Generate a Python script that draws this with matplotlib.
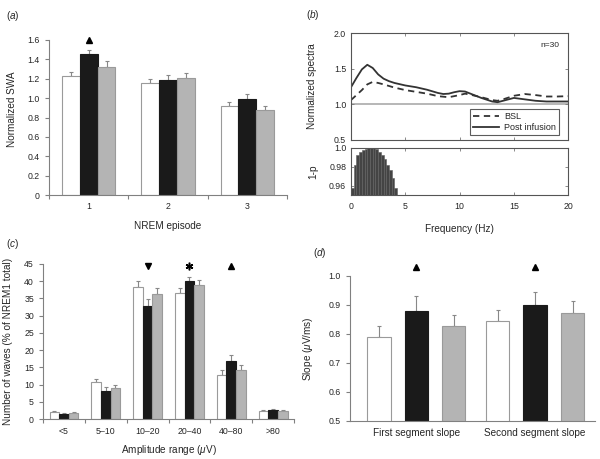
import matplotlib
matplotlib.use("Agg")
import matplotlib.pyplot as plt
import numpy as np

plt.rcParams['font.family'] = ['Liberation Sans', 'DejaVu Sans']
plt.rcParams['mathtext.fontset'] = 'custom'
plt.rcParams['mathtext.rm'] = 'Liberation Sans'
plt.rcParams['mathtext.it'] = 'Liberation Sans:italic'
plt.rcParams['font.size'] = 7

TXT = '#262626'
SP = '#808080'
COLS = ['white', '#1a1a1a', '#b4b4b4']
EDGES = ['#9a9a9a', '#1a1a1a', '#9a9a9a']
TICK_FS = 6.3
LAB_FS = 7.2

# ---- panel a data ----
episodes = ['1', '2', '3']
swa_means = [[1.23, 1.16, 0.92], [1.45, 1.19, 0.99], [1.32, 1.21, 0.88]]
swa_errs = [[0.04, 0.04, 0.04], [0.05, 0.05, 0.05], [0.06, 0.05, 0.04]]
swa_sig_x = [1]
swa_sig_y = [1.6]

# ---- panel b data ----
freq_bsl = [0, 0.5, 1.0, 1.5, 2.0, 2.5, 3, 4, 5, 6, 7, 8, 9, 10, 10.5, 11, 12, 13, 13.5, 14, 15, 16, 17, 18, 19, 20]
spec_bsl = [1.06, 1.13, 1.2, 1.28, 1.315, 1.30, 1.28, 1.235, 1.2, 1.175, 1.15, 1.115, 1.10, 1.13, 1.15, 1.135, 1.10, 1.06, 1.05, 1.07, 1.12, 1.145, 1.13, 1.11, 1.11, 1.115]
freq_post = [0, 0.5, 1.0, 1.5, 2.0, 2.5, 3, 3.5, 4, 5, 6, 7, 8, 8.5, 9, 9.5, 10, 10.5, 11, 12, 13, 13.5, 14, 15, 16, 17, 18, 19, 20]
spec_post = [1.24, 1.37, 1.49, 1.555, 1.51, 1.42, 1.36, 1.325, 1.30, 1.265, 1.24, 1.205, 1.16, 1.145, 1.15, 1.17, 1.185, 1.18, 1.15, 1.09, 1.04, 1.03, 1.05, 1.09, 1.07, 1.05, 1.04, 1.04, 1.04]
p_freq = [0.0, 0.25, 0.5, 0.75, 1.0, 1.25, 1.5, 1.75, 2.0, 2.25, 2.5, 2.75, 3.0, 3.25, 3.5, 3.75, 4.0]
p_vals = [0.958, 0.982, 0.992, 0.996, 0.998, 0.999, 1.0, 1.0, 1.0, 0.999, 0.996, 0.992, 0.988, 0.982, 0.976, 0.968, 0.958]

# ---- panel c data ----
amp_ranges = ['<5', '5\u201310', '10\u201320', '20\u201340', '40\u201380', '>80']
wave_means = [[1.9, 10.6, 38.2, 36.5, 12.7, 2.4],
              [1.5, 8.2, 32.8, 40.0, 16.7, 2.6],
              [1.8, 8.9, 36.3, 38.8, 14.2, 2.3]]
wave_errs = [[0.3, 1.1, 1.8, 1.4, 1.5, 0.3],
             [0.3, 1.1, 2.0, 1.2, 2.0, 0.4],
             [0.3, 0.9, 1.8, 1.5, 1.5, 0.3]]
wave_sig_x = [2, 3, 4]
wave_sig_y = [44.5, 44.5, 44.5]
wave_sig_m = ['v', (6, 2, 0), '^']

# ---- panel d data ----
segments = ['First segment slope', 'Second segment slope']
slope_means = [[0.790, 0.843], [0.880, 0.901], [0.828, 0.873]]
slope_errs = [[0.038, 0.039], [0.051, 0.044], [0.037, 0.040]]
slope_sig_y = [1.03, 1.03]

fig = plt.figure(figsize=(6.0, 4.59), dpi=100)

def style_open(ax):
    for s in ['top', 'right']:
        ax.spines[s].set_visible(False)
    for s in ['left', 'bottom']:
        ax.spines[s].set_color(SP)
        ax.spines[s].set_linewidth(0.8)
    ax.tick_params(colors=SP, labelcolor=TXT, labelsize=TICK_FS, length=3, width=0.8)

def bars(ax, xs, means, errs, width, offsets):
    for i in range(3):
        x = np.array(xs) + offsets[i]
        ax.bar(x, means[i], width=width, color=COLS[i], edgecolor=EDGES[i], linewidth=0.8, zorder=2)
        ax.errorbar(x, means[i], yerr=[np.zeros(len(means[i])), errs[i]], fmt='none',
                    ecolor='#888888', elinewidth=0.8, capsize=1.5, capthick=0.8, zorder=1)

# ---- panel a ----
axa = fig.add_axes([0.0817, 0.575, 0.3966, 0.338])
style_open(axa)
xa = np.arange(1, len(episodes) + 1)
bars(axa, xa, swa_means, swa_errs, 0.225, [-0.225, 0, 0.225])
axa.plot(swa_sig_x, swa_sig_y, marker='^', ls='none', color='k', ms=4, clip_on=False)
axa.set_xlim(0.5, 3.5)
axa.set_ylim(0, 1.6)
axa.set_yticks(np.arange(0, 1.61, 0.2))
axa.set_yticklabels(['0'] + ['%.1f' % v for v in np.arange(0.2, 1.61, 0.2)])
axa.set_xticks(xa)
axa.set_xticklabels(episodes)
axa.tick_params(axis='x', length=0, pad=5)
axa.set_xticks([0.5, 1.5, 2.5, 3.5], minor=True)
axa.tick_params(axis='x', which='minor', length=3, color=SP, width=0.8)
axa.set_xlabel('NREM episode', color=TXT, fontsize=LAB_FS, labelpad=7)
axa.set_ylabel('Normalized SWA', color=TXT, fontsize=LAB_FS)
axa.yaxis.set_label_coords(-0.135, 0.55)

# ---- panel b ----
axb = fig.add_axes([0.585, 0.695, 0.362, 0.233])
axb.plot(freq_bsl, spec_bsl, ls=(0, (3.5, 2.5)), color='#333333', lw=1.3, label='BSL')
axb.plot(freq_post, spec_post, ls='-', color='#333333', lw=1.3, label='Post infusion')
axb.axhline(1.0, color='#aaaaaa', lw=1.2, zorder=0)
axb.set_xlim(0, 20)
axb.set_ylim(0.5, 2.0)
axb.set_yticks([0.5, 1.0, 1.5, 2.0])
axb.set_yticklabels(['0.5', '1.0', '1.5', '2.0'])
axb.set_xticks([0, 5, 10, 15, 20])
axb.set_xticklabels([])
axb.text(18.3, 1.83, 'n=30', ha='center', va='center', fontsize=6, color=TXT)
leg = axb.legend(loc='lower right', frameon=True, fancybox=False, fontsize=6.5,
                 handlelength=2.8, borderpad=0.35, labelspacing=0.15, handletextpad=0.6,
                 borderaxespad=0.0, bbox_to_anchor=(0.958, 0.047))
leg.get_frame().set_edgecolor('#333333')
leg.get_frame().set_linewidth(0.8)
for t in leg.get_texts():
    t.set_color(TXT)
axb.set_ylabel('Normalized spectra', color=TXT, fontsize=LAB_FS)
axb.yaxis.set_label_coords(-0.157, 0.5)

axp = fig.add_axes([0.585, 0.575, 0.362, 0.103])
axp.bar(p_freq, np.array(p_vals) - 0.95, bottom=0.95, width=0.25, align='edge',
        color='#444444', edgecolor='#606060', linewidth=0.4)
axp.set_xlim(0, 20)
axp.set_ylim(0.95, 1.0)
axp.set_yticks([0.96, 0.98, 1.0])
axp.set_yticklabels(['0.96', '0.98', '1.0'])
axp.set_xticks([0, 5, 10, 15, 20])
axp.set_ylabel('1-p', color=TXT, fontsize=LAB_FS)
axp.yaxis.set_label_coords(-0.152, 0.5)
axp.set_xlabel('Frequency (Hz)', color=TXT, fontsize=LAB_FS, labelpad=9)
for ax in (axb, axp):
    for s in ax.spines.values():
        s.set_color('#555555')
        s.set_linewidth(0.8)
    ax.tick_params(direction='in', top=True, right=True, colors='#777777', labelcolor=TXT,
                   labelsize=TICK_FS, length=2.5, width=0.6)
axp.tick_params(axis='x', pad=5)

# ---- panel c ----
axc = fig.add_axes([0.0717, 0.0871, 0.4183, 0.338])
style_open(axc)
xc = np.arange(len(amp_ranges))
bars(axc, xc, wave_means, wave_errs, 0.23, [-0.23, 0, 0.23])
for x, y, m in zip(wave_sig_x, wave_sig_y, wave_sig_m):
    if m == '^' or m == 'v':
        axc.plot([x], [y], marker=m, ls='none', color='k', ms=4, clip_on=False)
    else:
        axc.plot([x], [y], marker=m, ls='none', color='k', ms=5.5, mew=1.1, clip_on=False)
axc.set_xlim(-0.5, 5.5)
axc.set_ylim(0, 45)
axc.set_yticks(np.arange(0, 46, 5))
axc.set_xticks(xc)
axc.set_xticklabels(amp_ranges)
axc.tick_params(axis='x', length=0, pad=6)
axc.set_xticks(np.arange(-0.5, 5.6, 1), minor=True)
axc.tick_params(axis='x', which='minor', length=3, color=SP, width=0.8)
axc.set_xlabel(r'Amplitude range ($\mathit{\mu}$V)', color=TXT, fontsize=LAB_FS, labelpad=5)
axc.set_ylabel('Number of waves (% of NREM1 total)', color=TXT, fontsize=LAB_FS)
axc.yaxis.set_label_coords(-0.12, 0.5)

# ---- panel d ----
axd = fig.add_axes([0.583, 0.0828, 0.409, 0.316])
style_open(axd)
xd = np.arange(len(segments))
bars(axd, xd, slope_means, slope_errs, 0.197, [-0.315, 0, 0.315])
axd.plot(xd, slope_sig_y, marker='^', ls='none', color='k', ms=4, clip_on=False)
axd.set_xlim(-0.56, 1.505)
axd.set_ylim(0.5, 1.0)
axd.set_yticks([0.5, 0.6, 0.7, 0.8, 0.9, 1.0])
axd.set_yticklabels(['0.5', '0.6', '0.7', '0.8', '0.9', '1.0'])
axd.set_xticks(xd)
axd.set_xticklabels(segments, fontsize=LAB_FS)
axd.tick_params(axis='x', length=0, pad=5)
axd.set_ylabel(r'Slope ($\mathit{\mu}$V/ms)', color=TXT, fontsize=LAB_FS)
axd.yaxis.set_label_coords(-0.143, 0.5)

# panel letters
for (x, y, l) in [(6, 16, 'a'), (306, 15, 'b'), (6, 244, 'c'), (313, 253, 'd')]:
    fig.text(x / 600, 1 - y / 459, '($\\mathit{%s}$)' % l, ha='left', va='center', fontsize=7.2, color=TXT)

fig.savefig('out.png', dpi=100)
